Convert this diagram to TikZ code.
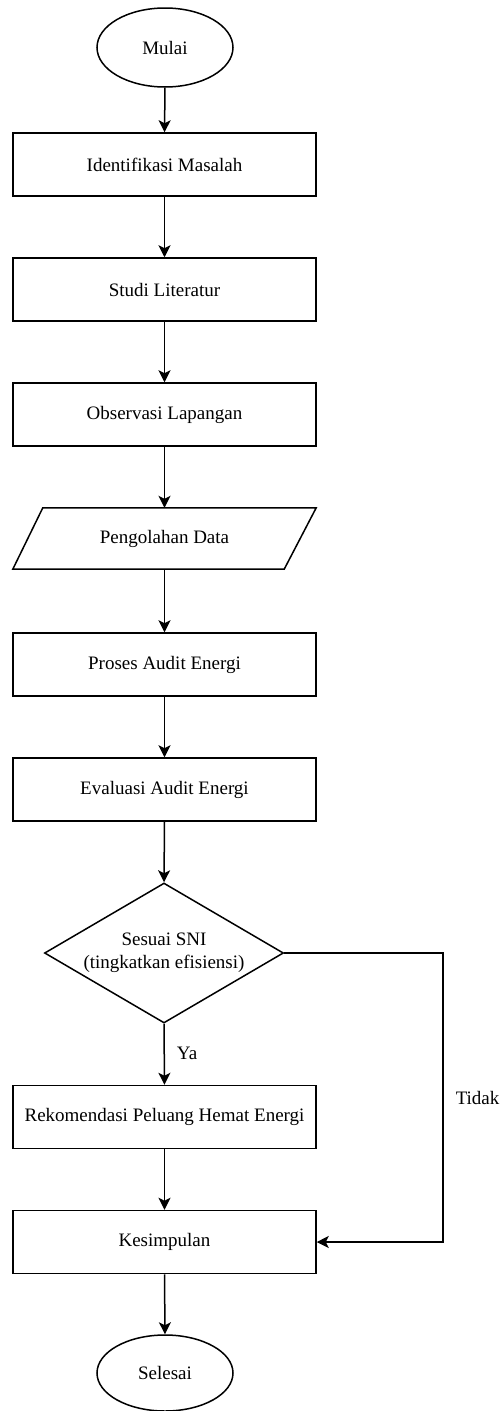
\documentclass[tikz,border=0pt]{standalone}
\usepackage{fontspec}
\setmainfont{Liberation Serif}
\newfontfamily\diafont{Liberation Serif}
\usetikzlibrary{shapes.geometric,arrows.meta,positioning}
\begin{document}
\begin{tikzpicture}[x=1pt,y=-1pt,
  every node/.style={font=\diafont\fontsize{19pt}{23pt}\selectfont, text=black},
  procbox/.style={draw, line width=1.5pt, rectangle, minimum width=303pt, minimum height=63pt, inner sep=0pt},
  term/.style={draw, line width=1.5pt, ellipse, minimum width=136pt, minimum height=79pt, inner sep=0pt},
  decis/.style={draw, line width=1.5pt, diamond, minimum width=239pt, minimum height=140pt, inner sep=0pt},
  plainbox/.style={rectangle, minimum width=303pt, minimum height=61pt, inner sep=0pt},
  arr/.style={line width=1.5pt, -{Stealth[length=12pt,width=12pt,inset=3pt]}},
  lbl/.style={inner sep=0pt}
]
\useasboundingbox (0,0) rectangle (501,1411);

\node[term] (mulai) at (165,47.5) {Mulai};
\node[procbox] (idm) at (164.5,164.5) {Identifikasi Masalah};
\node[procbox] (stl) at (164.5,289.5) {Studi Literatur};
\node[procbox] (obs) at (164.5,414.5) {Observasi Lapangan};
\node[plainbox] (pdt) at (164.5,538.5) {Pengolahan Data};
\draw[line width=1.5pt] ([xshift=30pt]pdt.north west) -- (pdt.north east) -- ([xshift=-32pt]pdt.south east) -- (pdt.south west) -- cycle;
\node[procbox] (pae) at (164.5,664.5) {Proses Audit Energi};
\node[procbox] (eae) at (164.5,789.5) {Evaluasi Audit Energi};
\node[decis] (sni) at (164,953) {};
\node[align=center, inner sep=0pt] (snitxt) at (164,953) {Sesuai SNI\\(tingkatkan efisiensi)};
\node[procbox] (rek) at (164.5,1117) {Rekomendasi Peluang Hemat Energi};
\node[procbox] (kes) at (164.5,1242) {Kesimpulan};
\node[term, minimum height=76pt] (sel) at (165,1373) {Selesai};

\coordinate (tc) at (443,953);

\draw[arr] (mulai.south) -- (idm.north);
\draw[arr] (idm.south) -- (stl.north);
\draw[arr] (stl.south) -- (obs.north);
\draw[arr] (obs.south) -- (pdt.north);
\draw[arr] (pdt.south) -- (pae.north);
\draw[arr] (pae.south) -- (eae.north);
\draw[arr] (eae.south) -- (sni.north);
\draw[arr] (sni.south) -- node[lbl, right=12pt, pos=0.48] (ya) {Ya} (rek.north);
\draw[arr] (rek.south) -- (kes.north);
\draw[arr] (sni.east) -- (tc) |- node[lbl, pos=0.25, right=12pt] (tdk) {Tidak} (kes.east);
\draw[arr] (kes.south) -- (sel.north);
\end{tikzpicture}
\end{document}
